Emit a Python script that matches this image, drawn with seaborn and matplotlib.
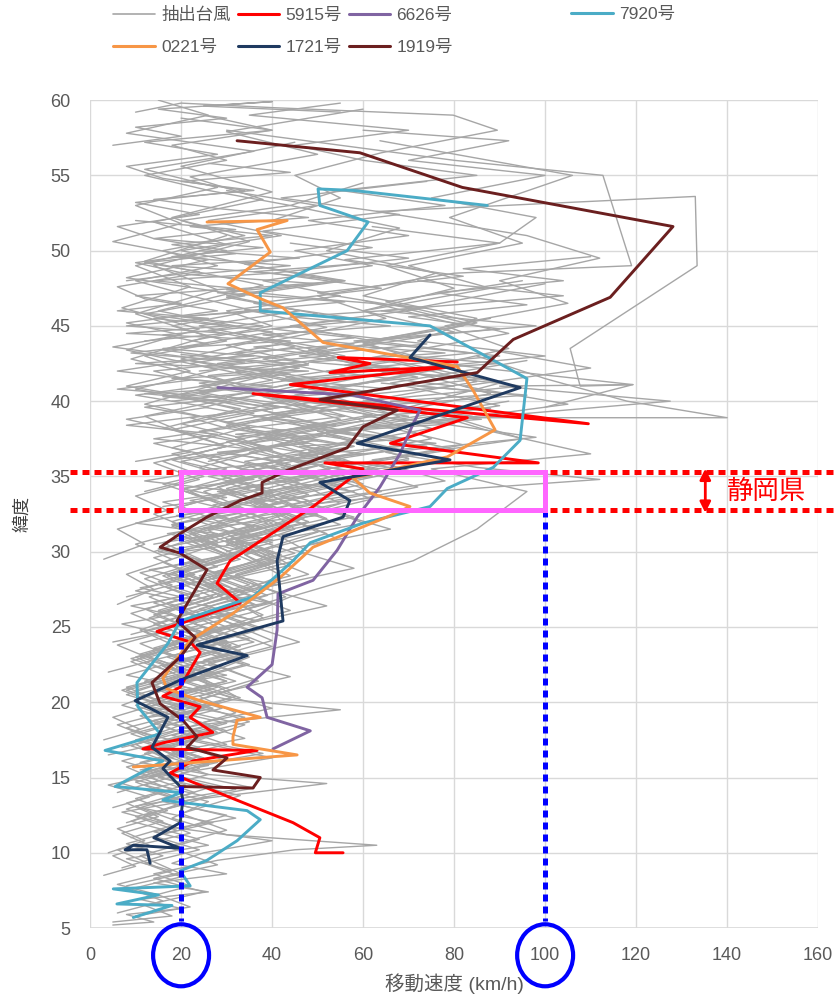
import numpy as np
import pandas as pd
import seaborn as sns
import matplotlib
matplotlib.use("Agg")
import matplotlib.pyplot as plt
from matplotlib.lines import Line2D
from matplotlib.patches import Ellipse

# ---------------- data (speed km/h, latitude deg) ----------------
g01 = [(5,5.4),(18,5.8),(12,6.5),(25,7.4),(14,8.3),(28,9.2),(17,10.4),(30,11.5),(20,12.6),(33,13.8),(15,15.0),(29,16.2),(18,17.5),(35,18.7),(22,20.0),(37,21.4),(25,22.8),(40,24.1),(28,25.6),(43,27.0),(32,28.5),(48,30.0),(38,31.6),(55,33.2),(45,34.7),(70,36.2),(52,37.8)]
g02 = [(8,7.8),(20,8.6),(11,9.8),(24,10.9),(9,12.1),(21,13.4),(7,14.6),(19,15.9),(10,17.2),(25,18.4),(13,19.7),(28,21.0),(16,22.4),(31,23.8),(19,25.2),(35,26.6),(24,28.1),(38,29.6),(30,31.2),(46,32.8),(36,34.3),(58,35.9),(44,37.4),(68,39.0),(50,40.6),(78,42.2),(60,43.9),(88,45.5)]
g03 = [(15,9.0),(6,10.2),(22,11.3),(12,12.5),(26,13.7),(9,14.9),(24,16.1),(14,17.3),(30,18.6),(12,19.8),(27,21.1),(17,22.4),(33,23.7),(21,25.1),(37,26.4),(26,27.8),(41,29.3),(30,30.7),(52,32.2),(40,33.7),(62,35.1),(35,36.6),(55,38.1),(25,39.6),(48,41.2),(20,42.8),(42,44.4),(15,46.0),(38,47.7),(12,49.3),(30,51.0)]
g04 = [(4,16.5),(16,17.3),(6,18.5),(20,19.6),(8,20.8),(23,22.0),(11,23.2),(26,24.5),(14,25.8),(29,27.1),(17,28.4),(32,29.8),(22,31.2),(36,32.6),(25,34.0),(42,35.4),(18,36.9),(35,38.3),(12,39.8),(30,41.3),(9,42.8),(26,44.3),(10,45.8),(28,47.4),(14,49.0),(35,50.6),(18,52.2),(40,53.9),(20,55.6),(45,57.2)]
g05 = [(20,12.0),(10,13.1),(32,14.2),(15,15.4),(38,16.6),(18,17.8),(34,19.0),(14,20.2),(30,21.4),(18,22.7),(36,24.0),(22,25.3),(40,26.6),(27,28.0),(45,29.4),(32,30.8),(58,32.3),(42,33.7),(66,35.2),(48,36.7),(75,38.2),(55,39.7),(85,41.3),(62,42.9),(92,44.5),(70,46.1),(100,47.8)]
g06 = [(10,20.5),(24,21.6),(14,22.8),(30,24.0),(18,25.2),(36,26.5),(25,27.8),(44,29.1),(36,30.5),(60,31.9),(48,33.3),(78,34.7),(62,36.1),(95,37.5),(80,38.9),(140,38.9),(118,40.0),(100,41.5),(85,43.0)]
g07 = [(12,7.0),(22,7.8),(14,8.6),(28,9.5),(45,10.2),(63,10.5),(30,11.2),(18,12.3),(26,13.4),(12,14.5),(24,15.6),(16,16.8),(28,18.0),(20,19.2),(32,20.4),(24,21.7),(35,23.0),(27,24.3),(38,25.6),(30,27.0),(42,28.4),(34,29.8),(50,31.3),(40,32.8),(60,34.2),(45,35.7)]
g08 = [(9,11.0),(18,11.8),(7,12.7),(22,13.5),(52,14.6),(26,15.2),(11,16.0),(24,17.0),(10,18.1),(22,19.3),(8,20.5),(20,21.7),(10,23.0),(24,24.3),(13,25.6),(27,27.0),(16,28.4),(30,29.8),(20,31.3),(38,32.8),(28,34.3),(47,35.8),(30,37.3),(55,38.8),(38,40.3),(65,41.9),(45,43.5)]
g09 = [(6,14.0),(15,14.8),(8,15.7),(20,16.6),(10,17.5),(24,18.5),(55,19.5),(30,20.2),(16,21.2),(28,22.3),(14,23.5),(27,24.7),(17,26.0),(31,27.3),(20,28.6),(35,30.0),(24,31.4),(42,32.8),(30,34.2),(50,35.7),(35,37.2),(60,38.7),(42,40.2),(70,41.8),(48,43.4),(82,45.0),(60,46.7)]
g10 = [(12,18.0),(22,18.9),(13,20.0),(26,21.2),(16,22.4),(30,23.6),(20,24.8),(36,26.0),(44,27.0),(71,29.4),(85,31.5),(96,34.0),(75,35.5),(110,36.5),(88,38.0),(70,39.6),(90,41.2),(65,42.8)]
g11 = [(4,22.0),(14,22.8),(6,23.8),(18,24.8),(9,25.9),(22,27.0),(12,28.2),(25,29.4),(16,30.6),(30,31.8),(20,33.0),(36,34.3),(24,35.6),(40,36.9),(16,38.2),(33,39.5),(10,40.8),(28,42.1),(8,43.4),(24,44.8),(7,46.2),(22,47.6),(10,49.0),(30,50.4),(14,51.9),(38,53.4),(22,54.9),(50,56.4),(30,57.9),(60,59.4)]
g12 = [(22,29.0),(35,30.2),(26,31.4),(44,32.6),(33,33.8),(50,35.0),(38,36.2),(58,37.4),(30,38.6),(52,39.8),(24,41.0),(46,42.2),(16,43.4),(40,44.6),(12,45.8),(34,47.0),(8,48.2),(26,49.4),(5,50.6),(20,51.8),(10,53.0),(28,54.2),(12,55.4),(36,56.6),(8,57.8),(26,59.0),(15,60.0)]
g13 = [(30,30.0),(45,31.5),(38,33.0),(60,34.5),(48,36.0),(75,37.5),(62,39.0),(88,40.5),(70,42.0),(92,43.5),(78,45.0),(105,46.5),(90,48.0),(112,49.5),(96,51.0),(63,52.6),(133,53.6),(133.4,49.0),(105.5,43.5),(107.7,41.0),(119.3,41.1),(100,39.6)]
g14 = [(63.7,57.3),(106,55.0),(79,52.2),(95,50.5),(70,49.0),(88,47.5),(60,46.0),(80,44.6),(50,43.2),(72,41.8),(45,40.4),(62,39.0),(38,37.6),(55,36.2),(32,34.8),(48,33.4),(28,32.0),(40,30.6),(22,29.2),(35,27.8),(18,26.4),(30,25.0),(14,23.6),(26,22.2),(10,20.8)]
g15 = [(40,44.0),(65,45.5),(50,47.0),(80,48.5),(119,49.0),(112.7,55.0),(80,56.0),(55,57.0),(30,58.0)]
g16 = [(20,26.0),(32,27.2),(24,28.4),(40,29.6),(30,30.8),(48,32.0),(36,33.2),(55,34.4),(42,35.6),(68,36.8),(50,38.0),(127.5,40.0),(90,41.0),(119.3,41.1),(80,42.4),(60,43.8),(85,45.2),(65,46.6),(95,48.0)]
g17 = [(40,52.0),(55,53.5),(45,55.0),(64,56.5),(89.5,58.0),(79.8,59.0),(40,59.5),(20,59.8),(10,59.2)]
g18 = [(3,29.5),(12,30.5),(6,31.5),(18,32.6),(10,33.7),(24,34.8),(14,35.9),(30,37.0),(18,38.1),(36,39.2),(20,40.3),(40,41.4),(22,42.5),(45,43.6),(26,44.7),(50,45.8),(30,46.9),(56,48.0),(34,49.1),(62,50.2),(38,51.3),(68,52.4),(42,53.5),(74,54.6)]
g19 = [(10,5.8),(22,6.4),(15,7.2),(6,7.9),(18,8.8),(8,9.6),(26,10.5),(14,11.4),(32,12.3),(18,13.3),(36,14.3),(20,15.3),(40,16.3),(23,17.4),(34,18.5),(18,19.6),(31,20.8),(20,22.0),(34,23.2),(24,24.5),(38,25.8),(28,27.1),(44,28.4),(34,29.8),(52,31.2),(40,32.6),(64,34.0),(50,35.4),(80,36.8),(58,38.2),(90,39.7),(66,41.2),(96,42.7)]
g20 = [(16,20.0),(8,21.0),(21,22.0),(11,23.0),(24,24.1),(14,25.2),(27,26.3),(10,27.4),(23,28.5),(14,29.6),(28,30.7),(18,31.8),(33,32.9),(21,34.0),(38,35.1),(26,36.2),(44,37.3),(30,38.4),(50,39.5),(34,40.6),(56,41.7),(38,42.8),(64,43.9),(44,45.0),(72,46.1),(50,47.2),(82,48.3),(56,49.4),(90,50.5),(62,51.6)]
g21 = [(5,13.0),(13,13.7),(4,14.5),(16,15.3),(7,16.1),(18,17.0),(9,17.9),(21,18.8),(12,19.8),(24,20.8),(8,21.8),(20,22.8),(11,23.9),(25,25.0),(15,26.1),(28,27.2),(19,28.3),(33,29.5),(22,30.7),(39,31.9),(27,33.1),(46,34.3),(33,35.5),(54,36.7),(40,37.9),(62,39.1),(30,40.3),(50,41.5),(22,42.7),(44,43.9)]
g22 = [(18,24.0),(28,25.0),(20,26.1),(34,27.2),(26,28.3),(42,29.4),(32,30.6),(55,31.8),(44,33.0),(75,34.0),(112,34.8),(85,35.6),(65,36.6),(98,37.6),(75,38.6),(105,39.8),(82,41.0),(110,42.2),(88,43.4)]
g23 = [(12,34.0),(25,35.0),(16,36.0),(30,37.0),(20,38.0),(12,39.0),(28,40.0),(8,41.0),(22,42.0),(12,43.0),(30,44.0),(18,45.0),(36,46.0),(22,47.0),(10,48.0),(28,49.0),(16,50.0),(34,51.0),(20,52.0),(44,53.0),(26,54.0),(12,55.0),(30,56.0),(18,57.0),(40,58.0),(25,59.0)]
g24 = [(26,36.0),(40,36.8),(32,37.6),(52,38.4),(40,39.2),(64,40.0),(48,40.8),(72,41.6),(56,42.4),(84,43.2),(62,44.0),(90,44.8),(70,45.6),(96,46.4),(76,47.2),(104,48.0),(82,48.8),(110,49.6)]
g25 = [(7,9.0),(16,9.8),(8,10.6),(19,11.5),(10,12.4),(22,13.3),(13,14.2),(26,15.2),(16,16.2),(30,17.2),(20,18.2),(32,19.3),(24,20.4),(36,21.5),(26,22.6),(40,23.7),(30,24.9),(44,26.1),(33,27.3),(48,28.5),(38,29.7),(54,30.9),(44,32.2),(62,33.5),(50,34.8),(70,36.1)]
g26 = [(14,30.0),(24,31.0),(18,32.0),(30,33.0),(22,34.0),(34,35.0),(20,36.0),(38,37.0),(24,38.0),(44,39.0),(28,40.0),(50,41.0),(32,42.0),(56,43.0),(40,44.0),(24,45.0),(46,46.0),(30,47.0),(54,48.0),(36,49.0),(20,50.0),(42,51.0),(26,52.0),(50,53.0),(30,54.0)]
g27 = [(9,24.5),(19,25.3),(12,26.2),(24,27.1),(15,28.0),(28,29.0),(19,30.0),(34,31.0),(24,32.0),(40,33.0),(28,34.0),(48,35.0),(34,36.0),(58,37.0),(40,38.0),(70,39.0),(46,40.0),(80,41.0),(52,42.0),(90,43.0),(58,44.0),(98,45.0),(64,46.0),(104,47.0),(72,48.0)]
g28 = [(3,17.5),(11,18.2),(5,19.0),(15,19.9),(7,20.8),(17,21.7),(9,22.7),(19,23.7),(11,24.8),(22,25.9),(13,27.0),(25,28.1),(16,29.3),(28,30.5),(18,31.7),(31,32.9),(20,34.1),(35,35.3),(23,36.5),(40,37.7),(26,38.9),(44,40.1),(28,41.3),(48,42.5),(30,43.7),(52,44.9),(34,46.1)]
g29 = [(20,38.0),(8,38.8),(26,39.6),(10,40.4),(30,41.2),(6,42.0),(24,42.8),(5,43.6),(20,44.4),(8,45.2),(28,46.0),(12,46.8),(6,47.6),(22,48.4),(10,49.2),(30,50.0),(14,50.8),(6,51.6),(24,52.4),(10,53.2),(34,54.0),(16,54.8),(8,55.6),(28,56.4),(12,57.2),(40,58.0),(20,58.8)]
g30 = [(30,32.0),(50,33.0),(38,34.0),(62,35.0),(46,36.0),(74,37.0),(52,38.0),(84,39.0),(60,40.0),(95,41.0),(66,42.0),(100,43.0),(72,44.0),(85,45.5),(60,47.0),(76,48.5),(52,50.0),(68,51.5),(44,53.0),(60,54.5)]
g31 = [(5,5.2),(14,5.4),(8,5.9),(20,6.3),(11,6.9),(26,7.4),(14,8.0),(30,8.6),(18,9.3),(25,10.0),(40,10.8),(20,11.6),(30,12.5),(16,13.4),(27,14.4),(13,15.4),(24,16.4),(11,17.5),(21,18.6),(7,19.8),(18,21.0)]
g32 = [(12,15.0),(26,15.8),(18,16.7),(34,17.6),(24,18.6),(40,19.6),(28,20.6),(44,21.7),(30,22.8),(46,24.0),(34,25.2),(52,26.4),(38,27.6),(58,28.9),(44,30.2),(66,31.5),(50,32.9),(72,34.3),(56,35.7),(82,37.1),(62,38.5),(92,40.0)]
g33 = [(18,40.0),(36,40.6),(24,41.2),(44,41.8),(30,42.4),(52,43.0),(36,43.6),(58,44.2),(40,44.8),(62,45.4),(34,46.0),(56,46.6),(28,47.2),(50,47.8),(22,48.4),(44,49.0),(18,49.6),(38,50.2),(14,50.8),(32,51.4),(10,52.0)]
g34 = [(6,26.5),(14,27.5),(8,28.5),(18,29.5),(10,30.5),(22,31.5),(14,32.5),(26,33.5),(16,34.5),(30,35.5),(18,36.5),(34,37.5),(20,38.5),(40,39.5),(24,40.5),(46,41.5),(28,42.5),(52,43.5),(32,44.5),(58,45.5),(36,46.5),(64,47.5),(40,48.5),(70,49.5),(44,50.5)]
g35 = [(60,46.0),(80,47.5),(65,49.0),(90,50.5),(98,52.2),(75,53.5),(100,55.0),(70,56.0),(92,57.3),(60,58.0)]
g36 = [(22,44.0),(40,45.0),(30,46.0),(55,47.0),(38,48.0),(62,49.0),(45,50.0),(70,51.0),(48,52.0),(78,53.0),(55,54.0),(85,55.0),(60,56.0),(45,57.0),(70,58.0),(35,59.0),(55,59.8)]
g37 = [(8,27.0),(18,27.8),(11,28.6),(23,29.4),(15,30.2),(28,31.0),(18,31.8),(33,32.6),(22,33.4),(38,34.2),(26,35.0),(44,35.8),(30,36.6),(50,37.4),(34,38.2),(56,39.0),(38,39.8),(62,40.6),(42,41.4),(68,42.2),(46,43.0),(74,43.8),(50,44.6)]
g38 = [(5,57.0),(20,57.6),(10,58.2),(30,58.8),(15,59.4),(40,59.9),(25,59.6),(55,59.2)]
g39 = [(16,33.0),(30,33.6),(20,34.2),(36,34.8),(24,35.4),(42,36.0),(28,36.6),(48,37.2),(32,37.8),(54,38.4),(36,39.0),(60,39.6),(40,40.2),(66,40.8),(44,41.4),(72,42.0),(48,42.6),(78,43.2),(52,43.8)]
g40 = [(8,12.0),(17,12.8),(10,13.6),(21,14.5),(12,15.4),(25,16.3),(15,17.3),(28,18.3),(18,19.3),(31,20.3),(20,21.4),(34,22.5),(22,23.6),(36,24.7),(25,25.9),(39,27.1),(28,28.3),(42,29.5),(32,30.8),(46,32.1),(36,33.4),(52,34.7),(40,36.0),(58,37.3),(44,38.6)]
g41 = [(6,6.0),(16,6.8),(9,7.6),(20,8.4),(12,9.3),(24,10.2),(14,11.1),(27,12.0),(11,13.0),(23,14.0),(13,15.0),(28,16.0),(16,17.0),(30,18.1),(19,19.2),(33,20.3),(21,21.4),(35,22.5),(23,23.7),(38,24.9),(26,26.1),(41,27.3),(29,28.6),(45,29.9),(33,31.2),(50,32.5),(36,33.8),(55,35.1)]
g42 = [(11,15.5),(22,16.2),(14,17.0),(27,17.8),(17,18.7),(29,19.6),(19,20.5),(32,21.4),(21,22.4),(33,23.4),(23,24.4),(36,25.4),(25,26.5),(38,27.6),(28,28.7),(42,29.8),(31,31.0),(47,32.2),(35,33.4),(52,34.6),(38,35.8),(58,37.0),(30,38.2),(46,39.4),(24,40.6),(40,41.8)]
g43 = [(18,22.0),(9,22.9),(21,23.8),(12,24.7),(25,25.6),(14,26.6),(27,27.6),(18,28.6),(31,29.6),(21,30.6),(35,31.7),(25,32.8),(40,33.9),(29,35.0),(46,36.1),(33,37.2),(52,38.3),(38,39.4),(60,40.5),(43,41.6),(68,42.7)]
g44 = [(4,10.0),(12,10.8),(6,11.6),(15,12.4),(8,13.3),(18,14.2),(10,15.1),(20,16.1),(9,17.1),(19,18.1),(11,19.1),(22,20.1),(13,21.2),(25,22.3),(16,23.4),(29,24.5),(19,25.7),(32,26.9),(22,28.1),(36,29.3),(26,30.6),(40,31.9),(30,33.2),(46,34.5),(34,35.8)]
g45 = [(25,18.0),(14,18.8),(27,19.6),(17,20.5),(30,21.4),(19,22.3),(32,23.2),(22,24.2),(34,25.2),(24,26.2),(37,27.2),(27,28.3),(40,29.4),(30,30.5),(44,31.6),(34,32.7),(48,33.8),(37,34.9),(54,36.0),(41,37.1),(60,38.2)]
g46 = [(10,36.0),(22,36.6),(14,37.2),(28,37.8),(8,38.4),(24,39.0),(12,39.6),(30,40.2),(6,40.8),(22,41.4),(14,42.0),(34,42.6),(9,43.2),(26,43.8),(16,44.4),(38,45.0),(20,45.6),(42,46.2)]
g47 = [(15,26.0),(26,26.8),(17,27.6),(30,28.4),(20,29.2),(34,30.0),(23,30.8),(38,31.6),(26,32.4),(42,33.2),(29,34.0),(46,34.8),(32,35.6),(50,36.4),(35,37.2),(54,38.0),(38,38.8),(58,39.6)]
g48 = [(7,17.0),(15,17.6),(8,18.3),(17,19.0),(10,19.8),(19,20.6),(12,21.4),(21,22.2),(13,23.0),(23,23.9),(15,24.8),(26,25.7),(17,26.6),(29,27.6),(20,28.6),(32,29.6),(23,30.6),(36,31.6),(26,32.6),(40,33.6),(30,34.6),(44,35.6)]
g49 = [(30,40.0),(12,40.5),(40,41.0),(18,41.5),(48,42.0),(10,42.5),(36,43.0),(16,43.5),(44,44.0),(8,44.5),(30,45.0),(14,45.5),(38,46.0)]
g50 = [(3,8.5),(10,9.1),(5,9.8),(13,10.5),(7,11.3),(16,12.1),(8,12.9),(18,13.8),(10,14.7),(21,15.6),(12,16.6),(24,17.6),(14,18.6),(26,19.7),(15,20.8),(28,21.9),(17,23.0),(30,24.1)]
g51 = [(20,30.0),(40,30.8),(25,31.6),(50,32.4),(32,33.2),(58,34.0),(40,34.8),(66,35.6),(46,36.4),(76,37.2),(52,38.0),(86,38.8),(58,39.6),(96,40.4),(64,41.2)]
g52 = [(12,44.0),(30,44.5),(8,45.0),(26,45.5),(6,46.0),(20,46.5),(10,47.0),(32,47.5),(14,48.0),(40,48.5),(18,49.0),(46,49.5),(24,50.0)]
g53 = [(14,30.5),(28,31.2),(10,31.9),(24,32.6),(16,33.3),(32,34.0),(12,34.7),(26,35.4),(18,36.1),(36,36.8),(14,37.5),(30,38.2),(22,38.9),(42,39.6),(16,40.3),(34,41.0),(26,41.7),(48,42.4),(20,43.1)]
g54 = [(40,36.0),(60,36.5),(46,37.0),(70,37.5),(54,38.0),(80,38.5),(60,39.0),(88,39.5),(66,40.0),(92,40.5),(72,41.0),(86,41.5),(64,42.0),(90,42.5),(70,43.0)]
g55 = [(13,19.0),(24,19.5),(16,20.0),(27,20.6),(18,21.2),(30,21.8),(20,22.4),(32,23.0),(23,23.6),(35,24.2),(25,24.8),(37,25.4),(27,26.0),(39,26.6),(29,27.2),(41,27.8),(31,28.4)]
g56 = [(5,24.0),(15,24.6),(7,25.2),(18,25.8),(9,26.4),(20,27.0),(11,27.6),(22,28.2),(13,28.8),(25,29.4),(15,30.0),(27,30.6),(17,31.2),(30,31.8),(19,32.4),(33,33.0)]
g57 = [(24,42.0),(46,42.6),(32,43.2),(58,43.8),(38,44.4),(66,45.0),(44,45.6),(74,46.2),(50,46.8),(30,47.4),(56,48.0),(36,48.6),(62,49.2)]
g58 = [(8,48.0),(24,48.6),(12,49.2),(32,49.8),(18,50.4),(40,51.0),(22,51.6),(48,52.2),(28,52.8),(14,53.4),(36,54.0),(20,54.6),(44,55.2),(26,55.8)]

gray_tracks = [g01,g02,g03,g04,g05,g06,g07,g08,g09,g10,g11,g12,g13,g14,g15,g16,g17,g18,g19,g20,
               g21,g22,g23,g24,g25,g26,g27,g28,g29,g30,g31,g32,g33,g34,g35,g36,g37,g38,g39,g40,
               g41,g42,g43,g44,g45,g46,g47,g48,g49,g50,g51,g52,g53,g54,g55,g56,g57,g58]

t5915_x   = [55.6,49.5,50.5,44.6,31.4,17.6,22.6,36.7,11.6,16.0,27.0,22.0,24.2,16.0,19.8,24.2,22.0,14.7,17.6,33.0,27.9,30.8,49.0,60.0,51.6,98.5,66.0,82.9,35.8,109.5,44.0,80.0,52.7,61.5,54.5,80.7]
t5915_lat = [10.0,10.0,11.0,12.0,13.6,15.3,16.1,16.8,16.9,17.3,18.0,19.0,19.7,20.4,21.0,23.3,24.0,24.7,25.0,26.6,27.9,29.4,33.0,35.5,35.9,35.9,37.2,38.9,40.5,38.5,41.1,42.3,41.9,42.5,42.9,42.6]

t6626_x   = [40.2,48.4,38.9,37.8,34.5,40.0,41.1,41.3,49.0,54.3,58.7,63.7,68.1,71.0,72.5,57.8,28.1]
t6626_lat = [16.9,18.1,19.0,20.3,21.0,22.5,24.8,27.2,28.1,30.1,32.3,34.3,36.5,38.5,39.4,40.4,40.9]

t7920_x   = [9.5,18.0,5.9,15.0,5.1,22.0,19.8,25.7,32.3,37.4,34.5,16.0,20.0,5.5,16.0,3.3,15.4,10.5,10.3,17.1,19.8,35.8,44.6,48.4,60.0,74.7,78.5,88.6,94.5,96.0,85.7,74.7,37.4,37.4,56.5,61.1,50.5,50.1,57.8,87.3]
t7920_lat = [5.7,6.5,6.6,7.2,7.6,7.8,8.8,9.5,10.8,12.2,12.8,13.5,14.0,14.4,16.1,16.8,17.9,19.7,21.3,23.9,25.4,27.0,29.4,30.6,31.9,33.0,34.2,35.6,37.4,41.5,43.2,45.0,46.0,47.2,50.0,51.9,53.0,54.1,54.0,53.0]

t0221_x   = [9.5,45.5,31.4,31.4,32.3,37.4,24.2,16.9,16.0,22.0,31.4,41.8,49.0,66.0,70.3,61.5,57.8,78.5,89.0,84.2,80.7,69.7,51.2,42.4,36.7,30.3,39.6,36.7,43.3,25.7]
t0221_lat = [15.7,16.5,17.2,17.7,18.8,19.0,20.1,20.9,21.6,24.1,25.9,28.3,30.3,32.4,33.0,33.9,34.9,36.3,38.1,40.7,42.3,42.9,43.9,46.2,46.9,47.8,49.9,51.4,52.0,51.9]

t1721_x   = [13.2,12.5,7.7,9.5,19.8,14.0,19.8,20.4,19.8,16.0,17.6,13.6,17.1,9.9,20.0,34.5,23.5,42.4,41.8,41.1,42.4,55.6,57.1,50.5,79.1,58.7,94.5,70.3,74.7]
t1721_lat = [9.3,10.2,10.2,10.5,10.3,11.0,12.0,13.5,14.4,15.6,16.1,17.0,19.0,20.1,21.5,23.1,23.8,25.4,27.2,29.4,31.0,32.3,33.4,34.6,36.1,37.2,40.9,42.9,44.4]

t1919_x   = [19.8,35.8,37.4,27.0,30.1,21.3,23.5,20.4,15.4,13.6,19.8,23.1,19.1,22.6,25.7,19.8,15.4,19.8,25.7,33.0,37.8,37.8,43.3,56.5,60.0,67.5,50.5,85.1,93.0,114.3,128.1,81.8,59.3,32.3]
t1919_lat = [14.4,14.3,15.0,15.5,16.3,17.0,17.7,18.8,19.9,21.3,23.0,24.3,25.4,27.2,28.8,29.9,30.3,31.2,32.3,33.4,33.9,34.6,35.4,36.9,38.3,39.4,40.1,41.9,44.1,46.9,51.6,54.2,56.5,57.3]

named_labels = ["5915号", "6626号", "7920号", "0221号", "1721号", "1919号"]
named_colors = ["#FF0000", "#8064A2", "#4BACC6", "#F79646", "#1F3A60", "#6B1F1F"]
gray_label = "抽出台風"
gray_color = "#A6A6A6"

x_ticks = [0, 20, 40, 60, 80, 100, 120, 140, 160]
y_ticks = [5, 10, 15, 20, 25, 30, 35, 40, 45, 50, 55, 60]
shizuoka_lat = (32.76, 35.27)
speed_range = (20, 100)

# ---------------- plotting ----------------
sns.set_theme(style="white")
plt.rcParams["font.family"] = ["Liberation Sans", "Noto Sans CJK JP", "DejaVu Sans"]

fig = plt.figure(figsize=(8.34, 10.06), dpi=100)
ax = fig.add_axes([0.108, 0.0775, 0.873, 0.823])

rows = []
for i, tr in enumerate(gray_tracks):
    for j, (xv, yv) in enumerate(tr):
        rows.append({"track": i, "order": j, "speed": xv, "lat": yv})
gdf = pd.DataFrame(rows)
sns.lineplot(data=gdf, x="speed", y="lat", units="track", estimator=None, sort=False,
             color=gray_color, linewidth=1.0, ax=ax, legend=False, zorder=2)

named = [(t5915_x, t5915_lat), (t6626_x, t6626_lat), (t7920_x, t7920_lat),
         (t0221_x, t0221_lat), (t1721_x, t1721_lat), (t1919_x, t1919_lat)]
for (xs, ys), lab, col in zip(named, named_labels, named_colors):
    df = pd.DataFrame({"speed": xs, "lat": ys})
    sns.lineplot(data=df, x="speed", y="lat", sort=False, estimator=None,
                 color=col, linewidth=2.1, ax=ax, legend=False, zorder=3)

ax.set_xlim(0, 160)
ax.set_ylim(5, 60)
ax.set_xticks(x_ticks)
ax.set_yticks(y_ticks)
ax.grid(True, color="#D9D9D9", linewidth=1.0)
ax.set_axisbelow(True)
for s in ax.spines.values():
    s.set_visible(False)
ax.axvline(0, color="#D9D9D9", lw=1.2, zorder=1)
ax.axhline(5, color="#D9D9D9", lw=1.2, zorder=1)
ax.tick_params(axis="both", length=0, labelsize=13, labelcolor="#595959")
ax.tick_params(axis="x", pad=14)
ax.tick_params(axis="y", pad=14)
ax.set_xlabel("移動速度 (km/h)", fontsize=14, color="#595959", labelpad=6)
ax.set_ylabel("緯度", fontsize=13, color="#404040", labelpad=14)

# annotations (all in data coordinates)
x_lo, x_hi = speed_range
y_lo, y_hi = shizuoka_lat
dot = dict(lw=3.6, dashes=(1.4, 1.0), dash_capstyle="butt", clip_on=False, zorder=6)
for yl in shizuoka_lat:
    ax.plot([-4.4, 163.5], [yl, yl], color="#FF0000", **dot)
for xv in speed_range:
    ax.plot([xv, xv], [y_lo, 5.5], color="#0000FF", **dot)
ax.plot([x_lo, x_hi], [y_lo, y_lo], color="#FF66FF", lw=3.6, clip_on=False, zorder=7,
        solid_capstyle="projecting")
ax.plot([x_lo, x_hi], [y_hi, y_hi], color="#FF66FF", lw=3.6, clip_on=False, zorder=7,
        solid_capstyle="projecting")
ax.plot([x_lo, x_lo], [y_lo, y_hi], color="#FF66FF", lw=3.6, clip_on=False, zorder=7,
        solid_capstyle="projecting")
ax.plot([x_hi, x_hi], [y_lo, y_hi], color="#FF66FF", lw=3.6, clip_on=False, zorder=7,
        solid_capstyle="projecting")
for xv in speed_range:
    ax.add_patch(Ellipse((xv, 3.19), 12.3, 4.12, fill=False, ec="#0000FF", lw=3.0,
                         clip_on=False, zorder=8))
ax.annotate("", xy=(135.2, 32.4), xytext=(135.2, 35.7),
            arrowprops=dict(arrowstyle="<|-|>", color="#FF0000", lw=2.0, mutation_scale=16),
            annotation_clip=False)
ax.text(140.0, 34.0, "静岡県", color="#FF0000", fontsize=19, va="center", ha="left",
        clip_on=False)

# legend: three columns, plus the fourth entry placed further right
handles = {gray_label: Line2D([], [], color=gray_color, lw=1.2)}
for lab, col in zip(named_labels, named_colors):
    handles[lab] = Line2D([], [], color=col, lw=2.2)
order = [gray_label, "0221号", "5915号", "1721号", "6626号", "1919号"]
leg_kw = dict(frameon=False, fontsize=12.5, handlelength=2.4, handletextpad=0.35,
              columnspacing=0.4, labelspacing=0.95, labelcolor="#595959",
              borderaxespad=0, borderpad=0)
leg1 = fig.legend([handles[k] for k in order], order, ncol=3, loc="upper left",
                  bbox_to_anchor=(0.136, 0.993), **leg_kw)
leg2 = fig.legend([handles["7920号"]], ["7920号"], ncol=1, loc="upper left",
                  bbox_to_anchor=(0.685, 0.993), **leg_kw)

fig.savefig("out.png", dpi=100)
